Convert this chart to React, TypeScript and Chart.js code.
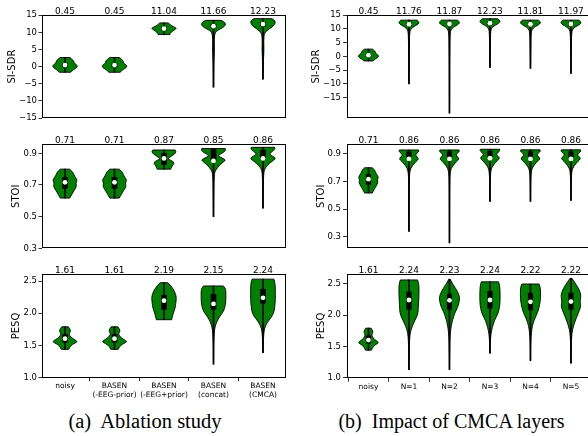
import React, { useEffect, useRef } from "react";
import { Chart, registerables } from "chart.js";

Chart.register(...registerables);

type Profile = [number, number][];
type Label = string | string[];

const FONT = '"DejaVu Sans", "Liberation Sans", sans-serif';
const GREEN = "#008000";

// ---------- categories ----------
const ablationLabels: Label[] = ["noisy", ["BASEN", "(-EEG-prior)"], ["BASEN", "(-EEG+prior)"], ["BASEN", "(concat)"], ["BASEN", "(CMCA)"]];
const layerLabels: Label[] = ["noisy", "N=1", "N=2", "N=3", "N=4", "N=5"];

// ---------- tick labels ----------
const sdrTicks = [15, 10, 5, 0, -5, -10, -15];
const stoiTicks = [0.9, 0.7, 0.5, 0.3];
const pesqTicks = [1.0, 1.5, 2.0, 2.5];

// ---------- annotated means ----------
const ablationSdrMeans = [0.45, 0.45, 11.04, 11.66, 12.23];
const layerSdrMeans = [0.45, 11.76, 11.87, 12.23, 11.81, 11.97];
const ablationStoiMeans = [0.71, 0.71, 0.87, 0.85, 0.86];
const layerStoiMeans = [0.71, 0.86, 0.86, 0.86, 0.86, 0.86];
const ablationPesqMeans = [1.61, 1.61, 2.19, 2.15, 2.24];
const layerPesqMeans = [1.61, 2.24, 2.23, 2.24, 2.22, 2.22];

// ---------- box stats [q1, median, q3] ----------
const ablationSdrBox = [[-0.1, 0.45, 0.9], [-0.1, 0.45, 0.9], [10.7, 11.1, 11.5], [11.3, 11.8, 12.3], [11.9, 12.4, 12.9]];
const layerSdrBox = [[-0.1, 0.45, 0.9], [11.2, 11.7, 12.2], [11.3, 11.8, 12.3], [11.6, 12.1, 12.6], [11.2, 11.7, 12.2], [11.3, 11.8, 12.3]];
const ablationStoiBox = [[0.679, 0.717, 0.749], [0.679, 0.717, 0.749], [0.83, 0.868, 0.9], [0.856, 0.852, 0.927], [0.872, 0.868, 0.92]];
const layerStoiBox = [[0.68, 0.717, 0.75], [0.876, 0.864, 0.917], [0.876, 0.864, 0.917], [0.88, 0.869, 0.92], [0.876, 0.864, 0.917], [0.876, 0.864, 0.917]];
const ablationPesqBox = [[1.55, 1.605, 1.67], [1.55, 1.605, 1.67], [2.06, 2.195, 2.28], [2.06, 2.145, 2.295], [2.155, 2.24, 2.37]];
const layerPesqBox = [[1.55, 1.6, 1.67], [2.09, 2.24, 2.37], [2.09, 2.235, 2.335], [2.11, 2.24, 2.38], [2.08, 2.21, 2.35], [2.09, 2.215, 2.35]];

// ---------- violin profiles [value, relative density] ----------
const noisySdrShape: Profile = [[2.65, 0.4], [2.2, 0.55], [1.6, 0.72], [1.1, 0.7], [0.6, 0.92], [0.15, 1.0], [-0.3, 0.95], [-0.8, 0.72], [-1.25, 0.58], [-1.65, 0.45]];
const noisyStoiShape: Profile = [[0.8, 0.38], [0.785, 0.6], [0.765, 0.72], [0.75, 0.82], [0.73, 1.0], [0.712, 0.86], [0.693, 0.95], [0.668, 0.76], [0.642, 0.56], [0.617, 0.38]];
const noisyPesqShape: Profile = [[1.79, 0.27], [1.76, 0.38], [1.725, 0.46], [1.69, 0.33], [1.65, 0.38], [1.61, 0.6], [1.578, 0.9], [1.555, 1.0], [1.53, 0.72], [1.5, 0.5], [1.47, 0.38], [1.44, 0.3]];

const ablationSdrShapes: Profile[] = [
  noisySdrShape,
  noisySdrShape,
  [[12.75, 0.35], [12.4, 0.45], [11.9, 0.62], [11.45, 0.9], [11.1, 1.0], [10.7, 0.85], [10.2, 0.62], [9.75, 0.52], [9.35, 0.48]],
  [[13.5, 0.62], [13.1, 0.85], [12.4, 1.0], [11.7, 0.88], [11.1, 0.6], [10.5, 0.3], [9.9, 0.14], [9.0, 0.08], [7.0, 0.06], [5.0, 0.08], [3.0, 0.05], [0, 0.03], [-3, 0.02], [-6.0, 0.01]],
  [[14.0, 0.72], [13.6, 0.92], [13.0, 1.0], [12.3, 0.95], [11.6, 0.75], [11.0, 0.5], [10.4, 0.3], [9.8, 0.14], [9.0, 0.08], [7.0, 0.06], [5.0, 0.08], [3.0, 0.05], [0, 0.03], [-3.7, 0.01]],
];
const layerSdrShapes: Profile[] = [
  noisySdrShape,
  [[13.2, 0.8], [12.7, 0.95], [12.1, 1.0], [11.5, 0.8], [10.9, 0.5], [10.3, 0.28], [9.6, 0.14], [8.5, 0.07], [6, 0.05], [3, 0.04], [0, 0.03], [-5, 0.02], [-10, 0.01]],
  [[13.2, 0.8], [12.7, 0.95], [12.1, 1.0], [11.5, 0.8], [10.9, 0.5], [10.3, 0.28], [9.6, 0.14], [8.5, 0.07], [6, 0.05], [3, 0.04], [0, 0.03], [-5, 0.02], [-12, 0.015], [-20.6, 0.01]],
  [[13.7, 0.75], [13.2, 0.95], [12.6, 1.0], [12.0, 0.85], [11.4, 0.55], [10.8, 0.3], [10.1, 0.14], [9.2, 0.07], [7, 0.05], [4, 0.04], [0, 0.025], [-4.0, 0.01]],
  [[13.2, 0.8], [12.7, 0.95], [12.1, 1.0], [11.5, 0.8], [10.9, 0.5], [10.3, 0.28], [9.6, 0.14], [8.5, 0.07], [6, 0.05], [3, 0.04], [0, 0.025], [-4.4, 0.01]],
  [[13.2, 0.8], [12.7, 0.95], [12.1, 1.0], [11.5, 0.8], [10.9, 0.5], [10.3, 0.28], [9.6, 0.14], [8.5, 0.07], [6, 0.05], [3, 0.04], [0, 0.025], [-3, 0.02], [-6.2, 0.01]],
];
const ablationStoiShapes: Profile[] = [
  noisyStoiShape,
  noisyStoiShape,
  [[0.921, 0.9], [0.91, 1.0], [0.895, 0.85], [0.88, 0.55], [0.866, 0.3], [0.855, 0.55], [0.843, 0.85], [0.825, 0.7], [0.81, 0.6], [0.8, 0.55]],
  [[0.93, 0.95], [0.92, 1.0], [0.905, 0.8], [0.892, 0.45], [0.882, 0.4], [0.87, 0.7], [0.858, 1.0], [0.845, 0.8], [0.83, 0.55], [0.81, 0.33], [0.79, 0.15], [0.77, 0.07], [0.72, 0.04], [0.6, 0.02], [0.5, 0.01]],
  [[0.938, 0.95], [0.93, 1.0], [0.915, 0.8], [0.9, 0.55], [0.888, 0.6], [0.876, 0.95], [0.865, 1.0], [0.85, 0.75], [0.835, 0.5], [0.82, 0.3], [0.8, 0.14], [0.78, 0.07], [0.74, 0.04], [0.65, 0.02], [0.553, 0.01]],
];
const layerStoiShapes: Profile[] = [
  noisyStoiShape,
  [[0.929, 0.95], [0.92, 1.0], [0.905, 0.8], [0.893, 0.6], [0.876, 0.85], [0.862, 0.95], [0.845, 0.7], [0.825, 0.45], [0.805, 0.25], [0.785, 0.13], [0.76, 0.07], [0.72, 0.04], [0.6, 0.02], [0.45, 0.015], [0.339, 0.01]],
  [[0.929, 0.95], [0.92, 1.0], [0.905, 0.8], [0.893, 0.6], [0.876, 0.85], [0.862, 0.95], [0.845, 0.7], [0.825, 0.45], [0.805, 0.25], [0.785, 0.13], [0.76, 0.07], [0.72, 0.04], [0.6, 0.02], [0.45, 0.015], [0.255, 0.01]],
  [[0.934, 0.95], [0.925, 1.0], [0.91, 0.8], [0.898, 0.6], [0.88, 0.85], [0.868, 0.95], [0.85, 0.7], [0.83, 0.45], [0.81, 0.25], [0.79, 0.13], [0.765, 0.07], [0.72, 0.04], [0.64, 0.02], [0.556, 0.01]],
  [[0.93, 0.95], [0.921, 1.0], [0.906, 0.8], [0.894, 0.6], [0.877, 0.85], [0.864, 0.95], [0.847, 0.7], [0.827, 0.45], [0.807, 0.25], [0.787, 0.13], [0.762, 0.07], [0.72, 0.04], [0.64, 0.02], [0.556, 0.01]],
  [[0.93, 0.95], [0.921, 1.0], [0.906, 0.8], [0.894, 0.6], [0.877, 0.85], [0.864, 0.95], [0.847, 0.7], [0.827, 0.45], [0.807, 0.25], [0.787, 0.13], [0.762, 0.07], [0.72, 0.04], [0.64, 0.02], [0.563, 0.01]],
];
const ablationPesqShapes: Profile[] = [
  noisyPesqShape,
  noisyPesqShape,
  [[2.475, 0.3], [2.44, 0.5], [2.36, 0.8], [2.29, 0.95], [2.23, 1.0], [2.155, 0.95], [2.08, 0.9], [2.0, 0.75], [1.95, 0.68], [1.9, 0.62]],
  [[2.424, 0.8], [2.39, 0.95], [2.35, 1.0], [2.2, 1.0], [2.12, 0.95], [2.05, 0.85], [2.0, 0.7], [1.95, 0.5], [1.87, 0.27], [1.79, 0.12], [1.7, 0.06], [1.55, 0.03], [1.35, 0.015], [1.21, 0.01]],
  [[2.53, 0.88], [2.48, 0.97], [2.38, 1.0], [2.2, 1.0], [2.1, 0.95], [2.0, 0.87], [1.92, 0.6], [1.845, 0.3], [1.77, 0.13], [1.68, 0.06], [1.55, 0.03], [1.39, 0.01]],
];
const layerPesqShapes: Profile[] = [
  noisyPesqShape,
  [[2.56, 0.85], [2.5, 0.97], [2.4, 1.0], [2.25, 0.97], [2.15, 0.93], [2.03, 0.9], [1.95, 0.7], [1.87, 0.45], [1.79, 0.25], [1.71, 0.12], [1.6, 0.06], [1.45, 0.03], [1.25, 0.015], [1.13, 0.01]],
  [[2.57, 0.08], [2.53, 0.2], [2.49, 0.35], [2.44, 0.55], [2.4, 0.7], [2.33, 0.92], [2.27, 1.0], [2.2, 0.95], [2.12, 0.8], [2.04, 0.55], [1.97, 0.4], [1.9, 0.28], [1.82, 0.17], [1.72, 0.09], [1.6, 0.05], [1.45, 0.03], [1.25, 0.015], [1.13, 0.01]],
  [[2.53, 0.85], [2.48, 0.95], [2.38, 1.0], [2.2, 1.0], [2.1, 0.92], [2.02, 0.78], [1.95, 0.55], [1.88, 0.38], [1.8, 0.22], [1.7, 0.1], [1.6, 0.05], [1.5, 0.025], [1.39, 0.01]],
  [[2.495, 0.85], [2.45, 0.97], [2.35, 1.0], [2.22, 0.97], [2.12, 0.85], [2.04, 0.7], [1.97, 0.5], [1.9, 0.32], [1.82, 0.18], [1.72, 0.09], [1.6, 0.045], [1.45, 0.02], [1.27, 0.01]],
  [[2.585, 0.1], [2.55, 0.25], [2.5, 0.45], [2.45, 0.65], [2.38, 0.88], [2.3, 1.0], [2.22, 0.88], [2.15, 0.98], [2.08, 0.85], [2.0, 0.65], [1.92, 0.45], [1.85, 0.3], [1.77, 0.16], [1.68, 0.08], [1.55, 0.04], [1.4, 0.02], [1.23, 0.01]],
];

// ---------- formatting ----------
const fmtSdr = (v: number) => (v < 0 ? "\u2212" + Math.abs(v) : String(v));
const fmt1 = (v: number) => v.toFixed(1);

interface PanelSpec {
  id: string;
  left: number; top: number; width: number; height: number;
  padTop: number; padBottom: number; padRight: number;
  yAxisW: number; xAxisH: number | null;
  xMin: number; xMax: number; yMin: number; yMax: number;
  labels: Label[]; ticks: number[]; fmt: (v: number) => string;
  title: string; titlePad: number; tickLen: number; tickPad: number;
  means: number[]; boxes: number[][]; shapes: Profile[]; boxW: number;
}

const LEFT_COL = { left: 0, width: 294, yAxisW: 42, padRight: 8, xMin: -0.465, xMax: 4.465, tickLen: 3.5, tickPad: 1.5, boxW: 5 };
const RIGHT_COL = { left: 294, width: 302, yAxisW: 53, padRight: 6, xMin: -0.53, xMax: 5.47, tickLen: 4, tickPad: 2, boxW: 4.5 };
const ROW1 = { top: 0, height: 130, padTop: 15.2, padBottom: 12, xAxisH: null };
const ROW2 = { top: 130, height: 130, padTop: 14.3, padBottom: 11.7, xAxisH: null };
const ROW3 = { top: 260, height: 145, padTop: 14.3, padBottom: 0, xAxisH: 27.3 };

const panels: PanelSpec[] = [
  { id: "a-sdr", ...LEFT_COL, ...ROW1, yMin: -15, yMax: 15, labels: ablationLabels, ticks: sdrTicks, fmt: fmtSdr, title: "SI-SDR", titlePad: 6, means: ablationSdrMeans, boxes: ablationSdrBox, shapes: ablationSdrShapes },
  { id: "a-stoi", ...LEFT_COL, ...ROW2, yMin: 0.3, yMax: 0.957, labels: ablationLabels, ticks: stoiTicks, fmt: fmt1, title: "STOI", titlePad: 10.7, means: ablationStoiMeans, boxes: ablationStoiBox, shapes: ablationStoiShapes },
  { id: "a-pesq", ...LEFT_COL, ...ROW3, yMin: 1.0, yMax: 2.605, labels: ablationLabels, ticks: pesqTicks, fmt: fmt1, title: "PESQ", titlePad: 10.7, means: ablationPesqMeans, boxes: ablationPesqBox, shapes: ablationPesqShapes },
  { id: "b-sdr", ...RIGHT_COL, ...ROW1, yMin: -22.4, yMax: 15, labels: layerLabels, ticks: sdrTicks, fmt: fmtSdr, title: "SI-SDR", titlePad: 16.7, means: layerSdrMeans, boxes: layerSdrBox, shapes: layerSdrShapes },
  { id: "b-stoi", ...RIGHT_COL, ...ROW2, yMin: 0.216, yMax: 0.97, labels: layerLabels, ticks: stoiTicks, fmt: fmt1, title: "STOI", titlePad: 21, means: layerStoiMeans, boxes: layerStoiBox, shapes: layerStoiShapes },
  { id: "b-pesq", ...RIGHT_COL, ...ROW3, yMin: 1.0, yMax: 2.65, labels: layerLabels, ticks: pesqTicks, fmt: fmt1, title: "PESQ", titlePad: 21, means: layerPesqMeans, boxes: layerPesqBox, shapes: layerPesqShapes },
];

type Pt = { x: number; y: number };
function smoothSide(ctx: CanvasRenderingContext2D, pts: Pt[], first: boolean) {
  if (first) ctx.moveTo(pts[0].x, pts[0].y);
  else ctx.lineTo(pts[0].x, pts[0].y);
  for (let i = 1; i < pts.length - 1; i++) {
    const mx = (pts[i].x + pts[i + 1].x) / 2;
    const my = (pts[i].y + pts[i + 1].y) / 2;
    ctx.quadraticCurveTo(pts[i].x, pts[i].y, mx, my);
  }
  const last = pts[pts.length - 1];
  ctx.lineTo(last.x, last.y);
}

function makeViolinPlugin(spec: PanelSpec) {
  return {
    id: "violin-" + spec.id,
    beforeDatasetsDraw(chart: any) {
      const { ctx, chartArea } = chart;
      const xs = chart.scales.x;
      const ys = chart.scales.y;
      const half = Math.abs(xs.getPixelForValue(0.25) - xs.getPixelForValue(0));
      ctx.save();
      ctx.beginPath();
      ctx.rect(chartArea.left, chartArea.top, chartArea.right - chartArea.left, chartArea.bottom - chartArea.top);
      ctx.clip();
      spec.shapes.forEach((shape, i) => {
        const cx = xs.getPixelForValue(i);
        const rightSide = shape.map(([v, w]) => ({ x: cx + w * half, y: ys.getPixelForValue(v) }));
        const leftSide = shape.slice().reverse().map(([v, w]) => ({ x: cx - w * half, y: ys.getPixelForValue(v) }));
        ctx.beginPath();
        smoothSide(ctx, rightSide, true);
        smoothSide(ctx, leftSide, false);
        ctx.closePath();
        ctx.fillStyle = GREEN;
        ctx.fill();
        ctx.lineWidth = 0.9;
        ctx.lineJoin = "round";
        ctx.strokeStyle = "#000";
        ctx.stroke();
      });
      ctx.restore();
    },
    afterDraw(chart: any) {
      const { ctx, chartArea: a } = chart;
      const xs = chart.scales.x;
      ctx.save();
      ctx.strokeStyle = "#000";
      ctx.lineWidth = 1;
      const l = Math.round(a.left) + 0.5;
      const t = Math.round(a.top) + 0.5;
      const r = Math.round(a.right) - 0.5;
      const b = Math.round(a.bottom) - 0.5;
      ctx.strokeRect(l, t, r - l, b - t);
      ctx.font = `9px ${FONT}`;
      ctx.fillStyle = "#000";
      ctx.textAlign = "center";
      ctx.textBaseline = "alphabetic";
      spec.means.forEach((m, i) => {
        ctx.fillText(m.toFixed(2), xs.getPixelForValue(i), a.top - 1.2);
      });
      ctx.restore();
    },
  };
}

function Panel({ spec }: { spec: PanelSpec }) {
  const ref = useRef<HTMLCanvasElement | null>(null);
  useEffect(() => {
    if (!ref.current) return;
    const showX = spec.xAxisH !== null;
    const chart = new Chart(ref.current, {
      type: "scatter",
      data: {
        datasets: [
          {
            type: "scatter",
            data: spec.boxes.map((b, i) => ({ x: i, y: b[1] })),
            pointRadius: 2.4,
            pointBackgroundColor: "#fff",
            pointBorderWidth: 0,
            pointHoverRadius: 2.4,
            order: 0,
          } as any,
          {
            type: "bar",
            data: spec.boxes.map((b, i) => ({ x: i, y: [b[0], b[2]] })),
            backgroundColor: "#000",
            borderWidth: 0,
            barThickness: spec.boxW,
            grouped: false,
            order: 1,
          } as any,
          {
            type: "bar",
            data: spec.shapes.map((s, i) => ({ x: i, y: [s[s.length - 1][0], s[0][0]] })),
            backgroundColor: "#000",
            borderWidth: 0,
            barThickness: 1,
            grouped: false,
            order: 2,
          } as any,
        ],
      },
      options: {
        animation: false,
        responsive: false,
        maintainAspectRatio: false,
        devicePixelRatio: 1,
        events: [],
        layout: { padding: { top: spec.padTop, bottom: spec.padBottom, left: 0, right: spec.padRight } },
        plugins: { legend: { display: false }, tooltip: { enabled: false } },
        scales: {
          x: {
            type: "linear",
            min: spec.xMin,
            max: spec.xMax,
            bounds: "data",
            offset: false,
            display: showX,
            afterBuildTicks: (ax: any) => {
              ax.ticks = spec.labels.map((_, i) => ({ value: i }));
            },
            afterFit: (ax: any) => {
              if (showX) ax.height = spec.xAxisH as number;
            },
            ticks: {
              autoSkip: false,
              maxRotation: 0,
              minRotation: 0,
              padding: 1,
              color: "#000",
              font: { family: FONT, size: 7.5, lineHeight: 1.1 },
              callback: (v: any) => spec.labels[Math.round(Number(v))] as any,
            },
            grid: { display: true, drawOnChartArea: false, drawTicks: true, tickLength: spec.tickLen, color: "#000", lineWidth: 0.8 },
            border: { display: false },
          },
          y: {
            type: "linear",
            min: spec.yMin,
            max: spec.yMax,
            bounds: "data",
            afterBuildTicks: (ax: any) => {
              ax.ticks = spec.ticks.map((v) => ({ value: v }));
            },
            afterFit: (ax: any) => {
              ax.width = spec.yAxisW;
            },
            ticks: {
              autoSkip: false,
              padding: spec.tickPad,
              color: "#000",
              font: { family: FONT, size: 8.5 },
              callback: (v: any) => spec.fmt(Number(v)),
            },
            title: {
              display: true,
              text: spec.title,
              color: "#000",
              font: { family: FONT, size: 10, lineHeight: 1.2 },
              padding: { top: spec.titlePad, bottom: 0 },
            },
            grid: { display: true, drawOnChartArea: false, drawTicks: true, tickLength: spec.tickLen, color: "#000", lineWidth: 0.8 },
            border: { display: false },
          },
        },
      } as any,
      plugins: [makeViolinPlugin(spec) as any],
    });
    return () => chart.destroy();
  }, [spec]);
  return (
    <canvas
      ref={ref}
      width={spec.width}
      height={spec.height}
      style={{ position: "absolute", left: spec.left, top: spec.top, width: spec.width, height: spec.height }}
    />
  );
}

const captionStyle = (center: number, size: number): React.CSSProperties => ({
  position: "absolute",
  left: center - 160,
  width: 320,
  top: 410.8,
  textAlign: "center",
  fontFamily: '"Liberation Serif", "Times New Roman", serif',
  fontSize: `${size}px`,
  lineHeight: "20.5px",
  whiteSpace: "pre",
  color: "#000",
});

export default function App() {
  return (
    <div style={{ position: "fixed", left: 0, top: 0, width: 588, height: 436, overflow: "hidden", background: "#fff" }}>
      {panels.map((p) => (
        <Panel key={p.id} spec={p} />
      ))}
      <div style={captionStyle(145, 20.5)}>{"(a)  Ablation study"}</div>
      <div style={captionStyle(451.5, 20)}>{"(b)  Impact of CMCA layers"}</div>
    </div>
  );
}
